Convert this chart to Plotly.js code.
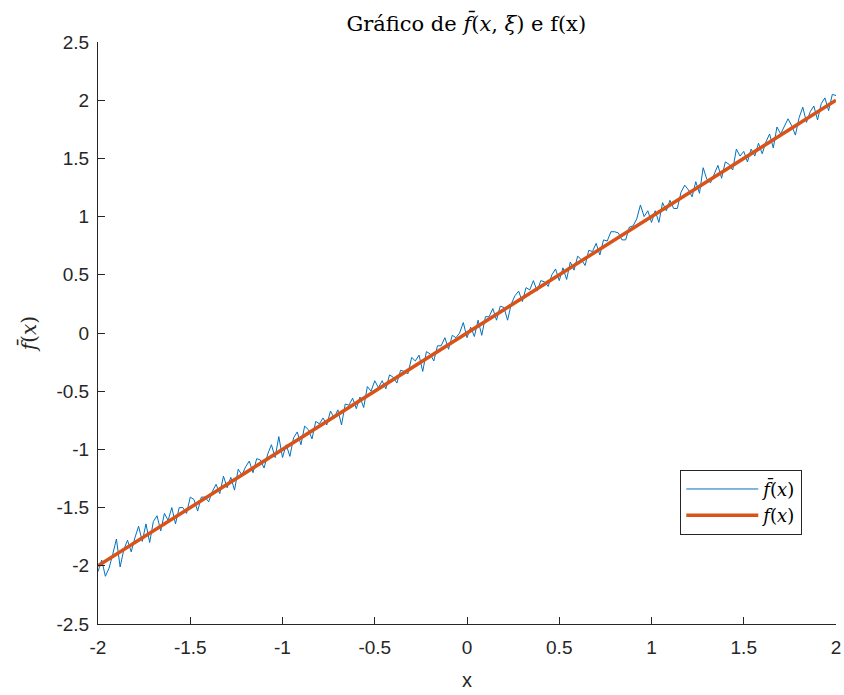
<!DOCTYPE html>
<html>
<head>
<meta charset="utf-8">
<script src="https://cdn.plot.ly/plotly-3.0.1.min.js"></script>
<style>html,body{margin:0;padding:0;background:#fff;}#chart{width:844px;height:695px;}</style>
</head>
<body>
<div id="chart"></div>
<script>
const xNoisy = [
-2.00,-1.98,-1.96,-1.94,-1.92,-1.90,-1.88,-1.86,-1.84,-1.82,-1.80,-1.78,-1.76,-1.74,-1.72,-1.70,-1.68,-1.66,-1.64,-1.62,-1.60,-1.58,-1.56,-1.54,-1.52,-1.50,
-1.48,-1.46,-1.44,-1.42,-1.40,-1.38,-1.36,-1.34,-1.32,-1.30,-1.28,-1.26,-1.24,-1.22,-1.20,-1.18,-1.16,-1.14,-1.12,-1.10,-1.08,-1.06,-1.04,-1.02,-1.00,
-0.98,-0.96,-0.94,-0.92,-0.90,-0.88,-0.86,-0.84,-0.82,-0.80,-0.78,-0.76,-0.74,-0.72,-0.70,-0.68,-0.66,-0.64,-0.62,-0.60,-0.58,-0.56,-0.54,-0.52,-0.50,
-0.48,-0.46,-0.44,-0.42,-0.40,-0.38,-0.36,-0.34,-0.32,-0.30,-0.28,-0.26,-0.24,-0.22,-0.20,-0.18,-0.16,-0.14,-0.12,-0.10,-0.08,-0.06,-0.04,-0.02,0.00,
0.02,0.04,0.06,0.08,0.10,0.12,0.14,0.16,0.18,0.20,0.22,0.24,0.26,0.28,0.30,0.32,0.34,0.36,0.38,0.40,0.42,0.44,0.46,0.48,0.50,
0.52,0.54,0.56,0.58,0.60,0.62,0.64,0.66,0.68,0.70,0.72,0.74,0.76,0.78,0.80,0.82,0.84,0.86,0.88,0.90,0.92,0.94,0.96,0.98,1.00,
1.02,1.04,1.06,1.08,1.10,1.12,1.14,1.16,1.18,1.20,1.22,1.24,1.26,1.28,1.30,1.32,1.34,1.36,1.38,1.40,1.42,1.44,1.46,1.48,1.50,
1.52,1.54,1.56,1.58,1.60,1.62,1.64,1.66,1.68,1.70,1.72,1.74,1.76,1.78,1.80,1.82,1.84,1.86,1.88,1.90,1.92,1.94,1.96,1.98,2.00
];
const yNoisy = [
-2.05,-1.95,-2.09,-2.02,-1.90,-1.77,-2.01,-1.86,-1.78,-1.88,-1.76,-1.66,-1.79,-1.64,-1.80,-1.62,-1.57,-1.70,-1.55,-1.61,-1.50,-1.64,-1.50,-1.50,-1.55,-1.41,
-1.43,-1.53,-1.41,-1.41,-1.45,-1.36,-1.30,-1.38,-1.23,-1.33,-1.24,-1.35,-1.17,-1.22,-1.15,-1.10,-1.20,-1.08,-1.09,-1.16,-1.04,-0.96,-1.07,-0.89,-1.07,
-0.96,-1.06,-0.90,-0.85,-0.96,-0.80,-0.83,-0.91,-0.76,-0.78,-0.73,-0.79,-0.67,-0.73,-0.66,-0.79,-0.61,-0.62,-0.56,-0.65,-0.55,-0.64,-0.46,-0.50,-0.41,
-0.47,-0.41,-0.48,-0.36,-0.38,-0.43,-0.32,-0.33,-0.35,-0.21,-0.24,-0.19,-0.33,-0.16,-0.18,-0.24,-0.11,-0.11,-0.04,-0.14,-0.02,-0.04,0.00,0.09,-0.04,
0.05,-0.03,0.11,-0.02,0.14,0.14,0.21,0.11,0.23,0.22,0.11,0.25,0.32,0.36,0.27,0.39,0.37,0.45,0.36,0.45,0.44,0.40,0.50,0.55,0.45,
0.56,0.46,0.61,0.54,0.66,0.63,0.58,0.71,0.70,0.77,0.67,0.80,0.79,0.87,0.87,0.86,0.80,0.80,0.91,0.92,0.98,1.10,1.00,1.05,0.95,
1.05,0.95,1.12,1.05,1.14,1.07,1.07,1.21,1.27,1.23,1.17,1.30,1.20,1.42,1.32,1.29,1.37,1.44,1.33,1.47,1.45,1.40,1.58,1.52,1.56,
1.47,1.58,1.52,1.63,1.54,1.64,1.71,1.59,1.77,1.71,1.78,1.84,1.78,1.70,1.85,1.94,1.81,1.90,1.95,1.83,1.97,2.02,1.91,2.05,2.04
];
const xExact = [-2, 2];
const yExact = [-2, 2];

const xTickVals = [-2,-1.5,-1,-0.5,0,0.5,1,1.5,2];
const xTickText = ['-2','-1.5','-1','-0.5','0','0.5','1','1.5','2'];
const yTickVals = [-2.5,-2,-1.5,-1,-0.5,0,0.5,1,1.5,2,2.5];
const yTickText = ['-2.5','-2','-1.5','-1','-0.5','0','0.5','1','1.5','2','2.5'];

const fbar = '<i>f\u0304</i>(<i>x</i>)';
const fx = '<i>f</i>(<i>x</i>)';

const traces = [
  {x: xNoisy, y: yNoisy, type: 'scatter', mode: 'lines', name: fbar,
   line: {color: '#0072BD', width: 1}},
  {x: xExact, y: yExact, type: 'scatter', mode: 'lines', name: fx,
   line: {color: '#D95319', width: 3.5}}
];

const axisCommon = {
  showgrid: false, zeroline: false, showline: true, linecolor: '#262626', linewidth: 1,
  ticks: 'inside', ticklen: 7, tickcolor: '#262626', mirror: false,
  tickfont: {family: 'Liberation Sans, Arial, sans-serif', size: 19, color: '#262626'}
};

const layout = {
  width: 844, height: 695,
  margin: {l: 98, r: 8, t: 42, b: 71},
  paper_bgcolor: '#fff', plot_bgcolor: '#fff',
  showlegend: true,
  title: {text: 'Gráfico de <i>f\u0304</i>(<i>x</i>, <i>ξ</i>) e f(x)',
    font: {family: 'DejaVu Serif, serif', size: 21, color: '#000'},
    x: 0.5525, xanchor: 'center', y: 0.966, yanchor: 'middle'},
  xaxis: Object.assign({}, axisCommon, {
    range: [-2, 2], tickvals: xTickVals, ticktext: xTickText, ticklabelstandoff: 6,
    title: {text: 'x', font: {family: 'Liberation Sans, Arial, sans-serif', size: 20, color: '#262626'}, standoff: 16}
  }),
  yaxis: Object.assign({}, axisCommon, {
    range: [-2.5, 2.5], tickvals: yTickVals, ticktext: yTickText, ticklabelstandoff: 4,
    title: {text: fbar, font: {family: 'DejaVu Serif, serif', size: 20, color: '#262626'}, standoff: 14}
  }),
  legend: {
    x: 0.789, y: 0.265, xanchor: 'left', yanchor: 'top',
    bgcolor: '#fff', bordercolor: '#262626', borderwidth: 1,
    font: {family: 'DejaVu Serif, serif', size: 18, color: '#000'},
    itemwidth: 72, tracegroupgap: 0
  }
};

Plotly.newPlot('chart', traces, layout, {displayModeBar: false, staticPlot: true});
</script>
</body>
</html>
